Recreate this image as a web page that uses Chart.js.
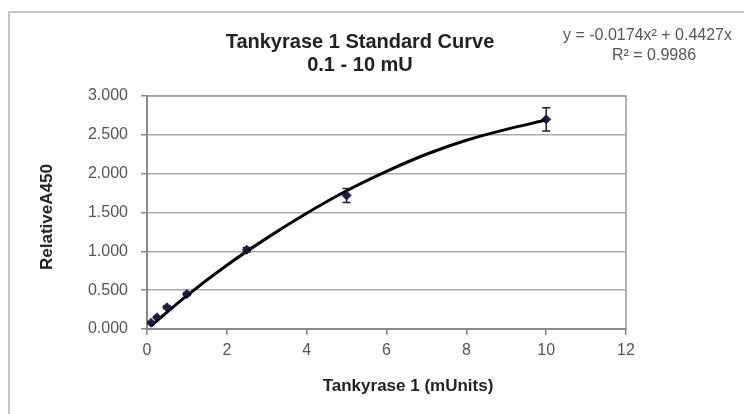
<!DOCTYPE html>
<html lang="en">
<head>
    <meta charset="UTF-8">
    <title>Tankyrase 1 Standard Curve</title>
    <script src="https://cdn.jsdelivr.net/npm/chart.js"></script>
    <style>
        body {
            margin: 0;
            width: 744px;
            height: 414px;
            overflow: hidden;
            background: #fff;
            font-family: 'Liberation Sans', Arial, sans-serif;
            position: relative;
        }
        .frame {
            position: absolute;
            left: 8px;
            top: 11px;
            width: 800px;
            height: 500px;
            border: 2px solid #c4c4c4;
        }
        .wrap {
            position: absolute;
            left: 0;
            top: 0;
            width: 744px;
            height: 414px;
        }
        .title {
            position: absolute;
            left: 160px;
            width: 400px;
            top: 30px;
            text-align: center;
            font-weight: bold;
            font-size: 20px;
            line-height: 23px;
            color: #222;
        }
        .eq {
            position: absolute;
            font-size: 16px;
            line-height: 18px;
            color: #555;
            white-space: nowrap;
        }
        .axtitle {
            position: absolute;
            font-weight: bold;
            font-size: 17px;
            color: #222;
            white-space: nowrap;
            transform: translate(-50%, -50%);
        }
    </style>
</head>
<body>
    <div class="frame"></div>
    <div class="wrap"><canvas id="curveChart"></canvas></div>
    <div class="title">Tankyrase 1 Standard Curve<br>0.1 - 10 mU</div>
    <div class="eq" style="left:563px; top:26px;">y = -0.0174x² + 0.4427x</div>
    <div class="eq" style="left:554px; width:200px; text-align:center; top:46px;">R² = 0.9986</div>
    <div class="axtitle" style="left:47px; top:217px; transform: translate(-50%, -50%) rotate(-90deg);">RelativeA450</div>
    <div class="axtitle" style="left:408px; top:386px;">Tankyrase 1 (mUnits)</div>

    <script>
        // measured points (mUnits vs A450)
        const enzymeUnits = [0.1, 0.25, 0.5, 1, 2.5, 5, 10];
        const absorbance = [0.08, 0.15, 0.28, 0.45, 1.02, 1.72, 2.70];
        const errorBars = [0.01, 0.01, 0.02, 0.02, 0.03, 0.09, 0.15];

        // polynomial trendline
        const trendX = [0.1, 1, 2, 3, 4, 5, 6, 7, 8, 9, 10];
        const trendY = [0.04, 0.43, 0.82, 1.17, 1.49, 1.78, 2.03, 2.25, 2.43, 2.57, 2.69];

        const xTicks = [0, 2, 4, 6, 8, 10, 12];
        const yTicks = [0, 0.5, 1, 1.5, 2, 2.5, 3];

        const errorBarPlugin = {
            id: 'errorBars',
            afterDatasetsDraw(chart) {
                const ctx = chart.ctx;
                const xs = chart.scales.x, ys = chart.scales.y;
                ctx.save();
                ctx.strokeStyle = '#222';
                ctx.lineWidth = 1.5;
                enzymeUnits.forEach((u, i) => {
                    const px = xs.getPixelForValue(u);
                    const top = ys.getPixelForValue(absorbance[i] + errorBars[i]);
                    const bot = ys.getPixelForValue(absorbance[i] - errorBars[i]);
                    ctx.beginPath();
                    ctx.moveTo(px, top); ctx.lineTo(px, bot);
                    ctx.moveTo(px - 4, top); ctx.lineTo(px + 4, top);
                    ctx.moveTo(px - 4, bot); ctx.lineTo(px + 4, bot);
                    ctx.stroke();
                });
                ctx.restore();
            }
        };

        const plotBorder = {
            id: 'plotBorder',
            beforeDatasetsDraw(chart) {
                const a = chart.chartArea, ctx = chart.ctx;
                ctx.save();
                ctx.strokeStyle = '#999';
                ctx.lineWidth = 1.5;
                ctx.beginPath();
                ctx.moveTo(a.left, a.top);
                ctx.lineTo(a.right, a.top);
                ctx.lineTo(a.right, a.bottom);
                ctx.stroke();
                ctx.restore();
            }
        };

        const ctx = document.getElementById('curveChart').getContext('2d');
        new Chart(ctx, {
            type: 'scatter',
            data: {
                datasets: [{
                    label: 'Trend',
                    type: 'line',
                    data: trendX.map((x, i) => ({ x: x, y: trendY[i] })),
                    borderColor: '#000',
                    borderWidth: 3,
                    pointRadius: 0,
                    cubicInterpolationMode: 'monotone',
                    fill: false,
                    order: 1
                }, {
                    label: 'A450',
                    data: enzymeUnits.map((x, i) => ({ x: x, y: absorbance[i] })),
                    pointStyle: 'rectRot',
                    pointRadius: 4.5,
                    backgroundColor: '#1c1c84',
                    borderColor: '#1c1c84',
                    order: 2
                }]
            },
            options: {
                responsive: true,
                maintainAspectRatio: false,
                animation: false,
                layout: { padding: { left: 0, top: 96, right: 118, bottom: 55 } },
                plugins: {
                    legend: { display: false },
                    tooltip: { enabled: false }
                },
                scales: {
                    x: {
                        type: 'linear',
                        min: 0,
                        max: 12,
                        afterFit: s => { s.height = 30; },
                        afterBuildTicks: s => { s.ticks = xTicks.map(v => ({ value: v })); },
                        ticks: {
                            color: '#555',
                            font: { family: "'Liberation Sans', Arial", size: 16 },
                            padding: 6
                        },
                        grid: {
                            drawOnChartArea: false,
                            drawTicks: true,
                            tickLength: 6,
                            tickColor: '#888',
                            lineWidth: 1.5
                        },
                        border: { color: '#888', width: 2 }
                    },
                    y: {
                        min: 0,
                        max: 3,
                        afterFit: s => { s.width = 147; },
                        afterBuildTicks: s => { s.ticks = yTicks.map(v => ({ value: v })); },
                        ticks: {
                            color: '#555',
                            font: { family: "'Liberation Sans', Arial", size: 16 },
                            padding: 13,
                            callback: v => v.toFixed(3)
                        },
                        grid: {
                            color: '#aaa',
                            lineWidth: 1.5,
                            tickLength: 6,
                            tickColor: '#888'
                        },
                        border: { color: '#888', width: 2 }
                    }
                }
            },
            plugins: [plotBorder, errorBarPlugin]
        });
    </script>
</body>
</html>
